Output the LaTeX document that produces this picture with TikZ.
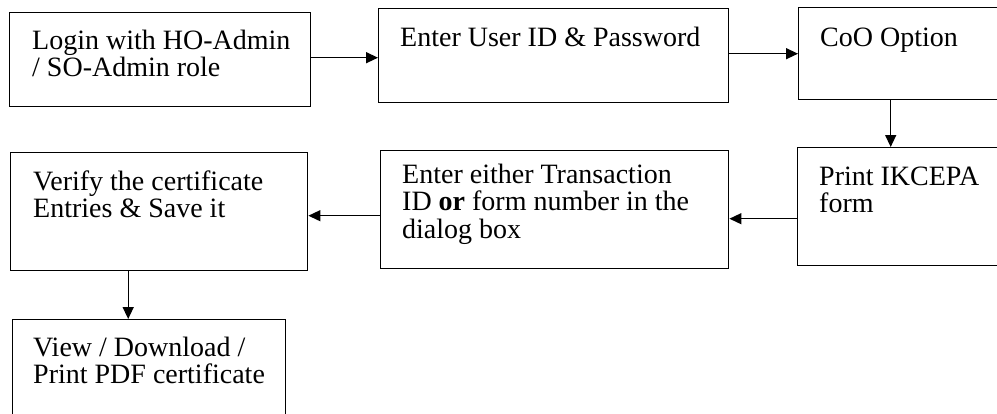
\documentclass[tikz,border=0pt]{standalone}
\usepackage{fontspec}
\setmainfont{Liberation Serif}
\usetikzlibrary{arrows.meta}
\newcommand\boxtext[1]{\parbox[t]{400pt}{#1}}
\begin{document}
\begin{tikzpicture}[x=1pt,y=-1pt,
  stepbox/.style={draw=black, line width=1.4pt, rectangle, anchor=north west, inner sep=0pt},
  txt/.style={anchor=base west, inner sep=0pt, font=\fontsize{28}{27.5}\selectfont},
  arr/.style={line width=1.4pt, -{Triangle[length=12pt,width=11pt]}}]
\useasboundingbox (0,0) rectangle (997,413);
% boxes
\node[stepbox, minimum width=301pt, minimum height=94pt] (b1) at (9,12) {};
\node[stepbox, minimum width=350pt, minimum height=94pt] (b2) at (378,8) {};
\node[stepbox, minimum width=212pt, minimum height=92pt] (b3) at (798,7) {};
\node[stepbox, minimum width=213pt, minimum height=118pt] (b4) at (797,147) {};
\node[stepbox, minimum width=348pt, minimum height=118pt] (b5) at (380,150) {};
\node[stepbox, minimum width=297pt, minimum height=118pt] (b6) at (10,152) {};
\node[stepbox, minimum width=273pt, minimum height=110pt] (b7) at (12,319) {};
% texts
\node[txt] (t1) at (32,49) {\boxtext{Login with HO-Admin\\/ SO-Admin role}};
\node[txt] (t2) at (400,46) {\boxtext{Enter User ID \& Password}};
\node[txt] (t3) at (820,46) {\boxtext{CoO Option}};
\node[txt] (t4) at (819,185) {\boxtext{Print IKCEPA\\form}};
\node[txt] (t5) at (402,183) {\boxtext{Enter either Transaction\\ID \textbf{or} form number in the\\dialog box}};
\node[txt] (t6) at (33,190) {\boxtext{Verify the certificate\\Entries \& Save it}};
\node[txt] (t7) at (33,356) {\boxtext{View / Download /\\Print PDF certificate}};
% connectors
\draw[arr] ([yshift=2pt]b1.east) -- ([yshift=2pt]b1.east -| b2.west);
\draw[arr] ([yshift=2pt]b2.east) -- ([yshift=2pt]b2.east -| b3.west);
\draw[arr] ([xshift=-14pt]b3.south) -- ([xshift=-14pt]b3.south |- b4.north);
\draw[arr] ([yshift=-12pt]b4.west) -- ([yshift=-12pt]b4.west -| b5.east);
\draw[arr] ([yshift=-6pt]b5.west) -- ([yshift=-6pt]b5.west -| b6.east);
\draw[arr] ([xshift=-31pt]b6.south) -- ([xshift=-31pt]b6.south |- b7.north);
\end{tikzpicture}
\end{document}
